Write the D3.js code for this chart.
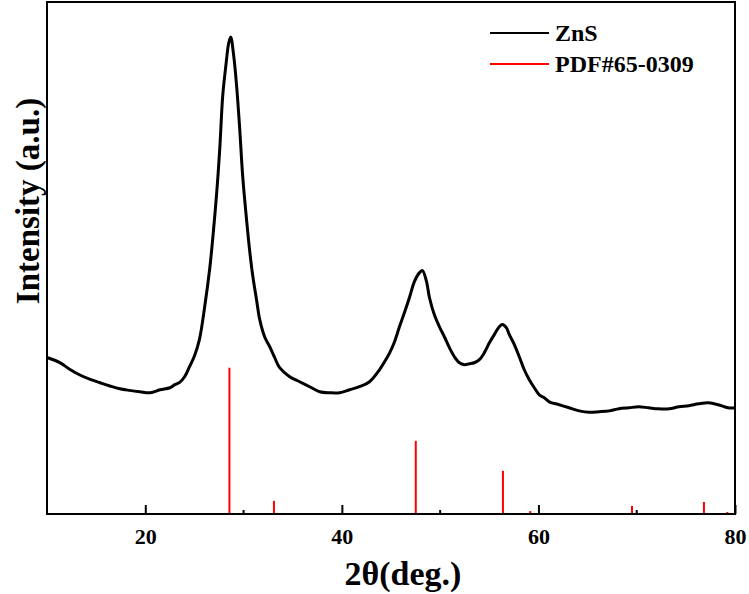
<!DOCTYPE html>
<html lang="en">
<head>
<meta charset="UTF-8">
<title>ZnS XRD</title>
<script src="https://d3js.org/d3.v7.min.js"></script>
<style>
  body { margin: 0; background: #fff; }
  text { font-family: "Liberation Serif", "Times New Roman", serif; }
  .tick-label { font-size: 22px; font-weight: bold; }
  .axis-title { font-size: 34px; font-weight: bold; }
  .legend-label { font-size: 24px; font-weight: bold; }
</style>
</head>
<body>
<svg id="chart" width="749" height="594"></svg>
<script>
  // ZnS pattern (2theta in degrees, intensity in a.u.)
  var znsTheta = [10.0, 11.3, 12.3, 13.35, 14.4, 15.4, 16.4, 17.4, 18.4, 19.45,
    20.5, 21.5, 22.5, 23.0, 23.5, 24.0, 24.5, 25.0, 25.5, 26.05,
    26.56, 26.86, 27.27, 27.58, 27.88, 28.19, 28.49, 28.69, 29.0, 29.3,
    29.61, 29.91, 30.32, 30.62, 30.93, 31.33, 31.64, 32.15, 32.66, 33.16,
    33.67, 34.69, 35.7, 36.72, 37.74, 38.75, 39.77, 40.78, 41.8, 42.82,
    43.83, 44.34, 44.85, 45.36, 45.86, 46.37, 46.88, 47.39, 47.9, 48.2,
    48.61, 48.91, 49.42, 49.93, 50.44, 50.94, 51.45, 51.96, 52.47, 52.97,
    53.48, 53.99, 54.5, 55.01, 55.51, 56.02, 56.33, 56.73, 57.04, 57.55,
    58.05, 58.56, 59.07, 59.58, 60.09, 60.59, 61.1, 62.12, 63.13, 64.15,
    65.17, 66.18, 67.2, 68.2, 69.2, 70.2, 71.2, 72.2, 73.3, 74.3,
    75.3, 76.3, 77.3, 78.3, 79.3, 80.0];
  var znsInt = [107, 103.5, 99, 95, 92, 89.7, 87.5, 85.6, 84.5, 83.6,
    82.9, 84.9, 86.3, 88.4, 90, 93.8, 100.7, 108, 119, 142,
    168, 188, 220, 250, 286, 306, 322, 326, 313, 292,
    263, 231, 200, 180, 163, 146, 133, 121, 114.4, 107,
    100, 93.8, 90.4, 87, 83.6, 82.9, 82.9, 84.9, 87, 90.4,
    98.6, 104, 110, 117.8, 128, 137.7, 148, 159, 165, 166.4,
    159, 148, 136, 128, 121, 113.7, 107.5, 103.4, 102.1, 102.7,
    103.4, 105.5, 110.3, 117, 122.6, 128, 129.5, 127.4, 122.6, 115.8,
    107.5, 98.6, 91.8, 86.3, 81.5, 79.5, 76.7, 74.7, 72.6, 70.5,
    69.5, 69.9, 70.5, 71.9, 72.6, 73.3, 72.6, 71.9, 71.9, 73.3,
    74, 75.3, 76, 74.7, 72.6, 72.6];

  // PDF#65-0309 reference lines
  var pdfTheta = [28.56, 33.09, 47.52, 56.39, 59.17, 69.52, 76.84, 79.22];
  var pdfInt = [100, 9, 50, 29.5, 2, 5.5, 8.2, 1.4];

  var majorTicks = [20, 40, 60, 80];
  var minorTicks = [30, 50, 70];
  var legendNames = ["ZnS", "PDF#65-0309"];
  var legendColors = ["black", "red"];

  var plotL = 47, plotR = 735, plotT = 2, plotB = 514;

  var svg = d3.select("#chart");

  var x = d3.scaleLinear().domain([10, 80]).range([plotL, plotR]);
  var y = d3.scaleLinear().domain([0, 350]).range([plotB, plotT]);

  // reference sticks
  svg.selectAll("line.pdf")
    .data(pdfTheta)
    .enter().append("line")
    .attr("class", "pdf")
    .attr("x1", function(d) { return x(d); })
    .attr("x2", function(d) { return x(d); })
    .attr("y1", y(0))
    .attr("y2", function(d, i) { return y(pdfInt[i]); })
    .style("stroke", "red")
    .style("stroke-width", 2);

  // measured pattern
  var pts = znsTheta.map(function(t, i) { return [t, znsInt[i]]; });
  var line = d3.line()
    .x(function(d) { return x(d[0]); })
    .y(function(d) { return y(d[1]); })
    .curve(d3.curveCatmullRom);

  svg.append("path")
    .datum(pts)
    .attr("d", line)
    .style("fill", "none")
    .style("stroke", "black")
    .style("stroke-width", 3)
    .style("stroke-linejoin", "round");

  // inward ticks on bottom
  var xAxis = d3.axisBottom(x).tickValues(majorTicks).tickSize(-9).tickFormat(d3.format("d"));
  var gx = svg.append("g")
    .attr("transform", "translate(0," + plotB + ")")
    .call(xAxis);
  gx.select(".domain").remove();
  gx.selectAll("line").style("stroke", "black").style("stroke-width", 2);
  gx.selectAll("text")
    .attr("class", "tick-label")
    .attr("y", 14)
    .attr("dy", "0.71em")
    .style("fill", "black");

  svg.append("g").selectAll("line")
    .data(minorTicks)
    .enter().append("line")
    .attr("x1", function(d) { return x(d); })
    .attr("x2", function(d) { return x(d); })
    .attr("y1", plotB)
    .attr("y2", plotB - 4)
    .style("stroke", "black")
    .style("stroke-width", 2);

  // frame
  svg.append("rect")
    .attr("x", plotL)
    .attr("y", plotT)
    .attr("width", plotR - plotL)
    .attr("height", plotB - plotT)
    .style("fill", "none")
    .style("stroke", "black")
    .style("stroke-width", 2);

  // titles
  svg.append("text")
    .attr("class", "axis-title")
    .attr("x", 403)
    .attr("y", 585)
    .attr("text-anchor", "middle")
    .text("2θ(deg.)");

  svg.append("text")
    .attr("class", "axis-title")
    .attr("transform", "translate(39,201) rotate(-90)")
    .attr("text-anchor", "middle")
    .style("font-size", "33px")
    .text("Intensity (a.u.)");

  // legend
  var lg = svg.append("g").selectAll("g")
    .data(legendNames)
    .enter().append("g")
    .attr("transform", function(d, i) { return "translate(490," + (33 + i * 31) + ")"; });
  lg.append("line")
    .attr("x1", 0).attr("x2", 59)
    .style("stroke", function(d, i) { return legendColors[i]; })
    .style("stroke-width", 2);
  lg.append("text")
    .attr("class", "legend-label")
    .attr("x", 65)
    .attr("y", 8)
    .text(function(d) { return d; });
</script>
</body>
</html>
